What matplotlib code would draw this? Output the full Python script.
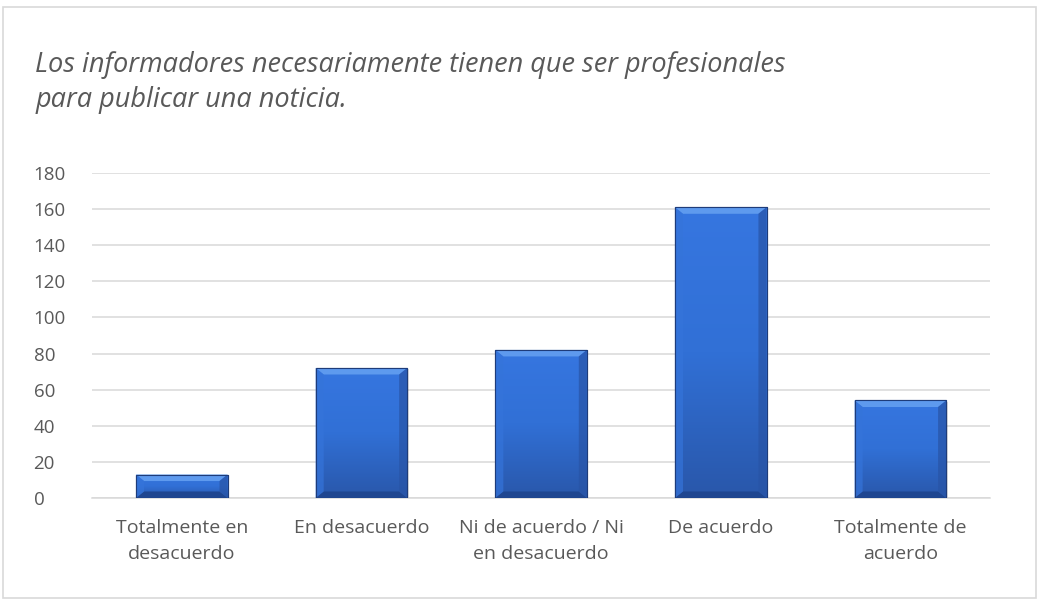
import numpy as np
import matplotlib.pyplot as plt
from matplotlib.patches import Polygon, Rectangle
from matplotlib.colors import LinearSegmentedColormap

# datos
categorias = ['Totalmente en\ndesacuerdo', 'En desacuerdo', 'Ni de acuerdo / Ni\nen desacuerdo',
              'De acuerdo', 'Totalmente de\nacuerdo']
valores = [13, 72, 82, 161, 54]
yticks = [0, 20, 40, 60, 80, 100, 120, 140, 160, 180]
titulo = 'Los informadores necesariamente tienen que ser profesionales\npara publicar una noticia.'

plt.rcParams['font.family'] = ['Open Sans', 'DejaVu Sans']
gris = '#595959'

fig = plt.figure(figsize=(10.39, 6), dpi=100)
ax = fig.add_axes([0.0885, 0.17, 0.8645, 0.5417])

x = np.arange(len(valores))
bars = ax.bar(x, valores, width=0.51, color='#2F67CC', edgecolor='#1E3C7A', linewidth=0.8, zorder=3)

ax.set_xlim(-0.5, len(valores) - 0.5)
ax.set_ylim(0, 180)
ax.set_yticks(yticks)
ax.set_xticks(x)
ax.set_xticklabels(categorias, fontsize=14, color=gris, linespacing=1.6)
ax.tick_params(axis='y', labelsize=13.5, labelcolor=gris, length=0, pad=42)
ax.tick_params(axis='x', length=0, pad=15)
for lbl in ax.get_yticklabels():
    lbl.set_horizontalalignment('left')
ax.grid(axis='y', color='#D9D9D9', linewidth=1.1, zorder=0)
for s in ['top', 'right', 'left']:
    ax.spines[s].set_visible(False)
ax.spines['bottom'].set_color('#D9D9D9')
ax.spines['bottom'].set_linewidth(1.1)

# degradado y bisel de las barras
cmap = LinearSegmentedColormap.from_list('azul', ['#2957AA', '#3170D6', '#3676E0'])
grad = np.linspace(0, 1, 256).reshape(-1, 1)
bx = 0.045   # ancho del bisel (x)
by = 3.6     # alto del bisel (y)
for b in bars:
    x0, y0, w, h = b.get_x(), b.get_y(), b.get_width(), b.get_height()
    # sombra
    ax.add_patch(Rectangle((x0 + 0.008, y0 - 0.8), w, h, color='#000000', alpha=0.12, zorder=2, lw=0))
    im = ax.imshow(grad, extent=[x0, x0 + w, y0, y0 + h], origin='lower', cmap=cmap,
                   aspect='auto', zorder=3.5)
    im.set_clip_path(b)
    ty = min(by, h * 0.3)
    top = Polygon([[x0, y0 + h], [x0 + w, y0 + h], [x0 + w - bx, y0 + h - ty], [x0 + bx, y0 + h - ty]],
                  closed=True, color='#5E9AEE', lw=0, zorder=4)
    bot = Polygon([[x0, y0], [x0 + w, y0], [x0 + w - bx, y0 + ty], [x0 + bx, y0 + ty]],
                  closed=True, color='#1F4690', lw=0, zorder=4)
    lft = Polygon([[x0, y0], [x0 + bx, y0 + ty], [x0 + bx, y0 + h - ty], [x0, y0 + h]],
                  closed=True, color='#3574DA', lw=0, alpha=0.7, zorder=4)
    rgt = Polygon([[x0 + w, y0], [x0 + w - bx, y0 + ty], [x0 + w - bx, y0 + h - ty], [x0 + w, y0 + h]],
                  closed=True, color='#2854A6', lw=0, alpha=0.7, zorder=4)
    for p in (top, bot, lft, rgt):
        ax.add_patch(p)
    ax.add_patch(Rectangle((x0, y0), w, h, fill=False, edgecolor='#1E3C7A', lw=0.8, zorder=5))

fig.text(0.034, 0.863, titulo, fontsize=19.5, style='italic', color=gris,
         ha='left', va='center', linespacing=1.33)

# marco exterior
fig.patches.append(Rectangle((0.003, 0.004), 0.994, 0.985, transform=fig.transFigure,
                             fill=False, edgecolor='#D9D9D9', lw=1.2))

fig.savefig('out.png', dpi=100)
